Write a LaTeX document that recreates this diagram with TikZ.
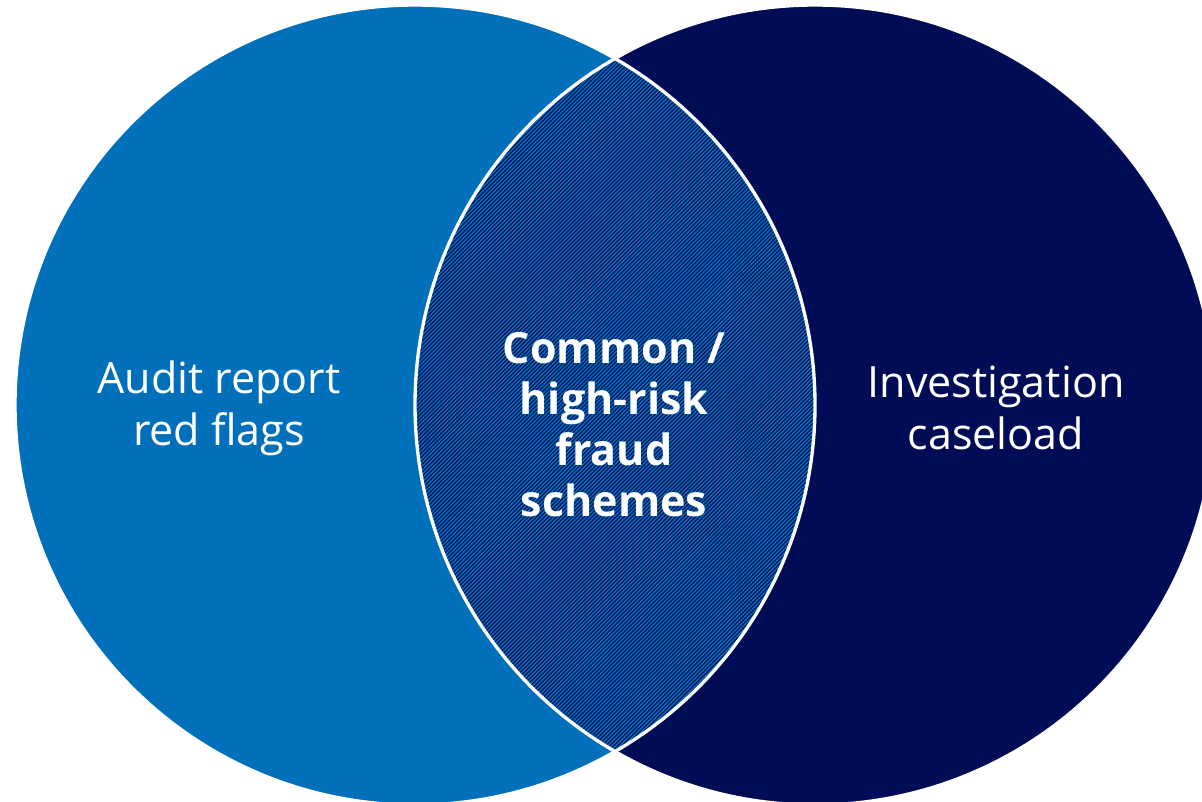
\documentclass[tikz,border=0pt]{standalone}
\usepackage{fontspec}
\setmainfont{Open Sans}
\usetikzlibrary{patterns.meta}
\definecolor{auditblue}{RGB}{0,112,186}
\definecolor{caseblue}{RGB}{0,12,85}

\begin{document}
\begin{tikzpicture}[x=0.02cm, y=-0.02cm]

\useasboundingbox (0,0) rectangle (1202,801);

% Define circle centres
\coordinate (left) at (415,405);
\coordinate (right) at (815,405);

% Fill the two sets
\fill[auditblue] (left) circle (400);
\fill[caseblue] (right) circle (400);

% Hatched overlap
\begin{scope}
\clip (left) circle (400);
\fill[caseblue] (right) circle (400);
\fill[pattern={Lines[angle=45, distance=1.6pt, line width=0.8pt]}, pattern color=auditblue] (right) circle (400);
\end{scope}

% White outlines
\draw[white, line width=1.9pt] (left) circle (400);
\draw[white, line width=1.9pt] (right) circle (400);

% Labels
\node (audit) [text=white, align=center, font=\fontsize{24.5pt}{29.5pt}\selectfont] at (219,408) {Audit report\\red flags};
\node (case) [text=white, align=center, font=\fontsize{24.5pt}{29.5pt}\selectfont] at (996,408) {Investigation\\caseload};
\node (common) [text=white, align=center, font=\bfseries\fontsize{24.5pt}{29pt}\selectfont] at (614,425) {Common /\\high-risk\\fraud\\schemes};

\end{tikzpicture}
\end{document}
